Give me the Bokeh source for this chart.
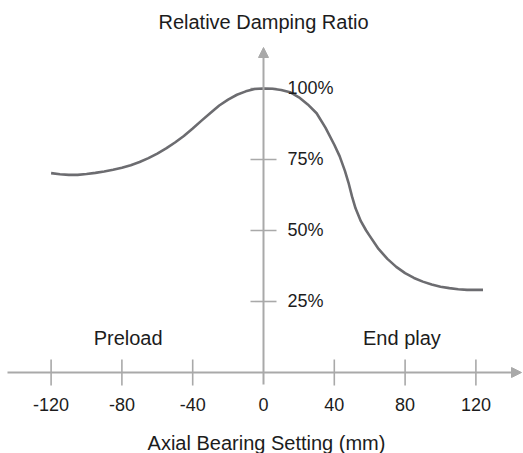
from bokeh.plotting import figure
from bokeh.models import Arrow, NormalHead
from bokeh.core.properties import value
from bokeh.embed import file_html
from bokeh.resources import INLINE

# ---- data ----
setting_mm = [-120, -115, -110, -105, -100, -95, -90, -85, -80, -75, -70, -65, -60, -55,
              -50, -45, -40, -35, -30, -25, -20, -15, -10, -5, 0,
              5, 10, 15, 20, 25, 30, 35, 40, 43, 46, 48, 50, 52, 55, 58, 60,
              65, 70, 75, 80, 85, 90, 95, 100, 105, 110, 115, 120, 124]
damping_pct = [70.2, 69.8, 69.6, 69.6, 69.9, 70.3, 70.8, 71.4, 72.1, 73.0, 74.1, 75.5, 77.1, 78.9,
               81.0, 83.3, 85.9, 88.7, 91.4, 94.0, 96.1, 97.8, 99.0, 99.8, 100.0,
               99.9, 99.5, 98.7, 96.9, 94.4, 91.3, 86.2, 80.2, 76.2, 71.0, 66.9, 62.0, 57.8, 53.3, 50.0, 48.1,
               43.5, 40.0, 37.2, 35.0, 33.3, 32.0, 31.0, 30.2, 29.7, 29.3, 29.1, 29.1, 29.1]
x_ticks = [-120, -80, -40, 0, 40, 80, 120]
x_tick_labels = ["-120", "-80", "-40", "0", "40", "80", "120"]
y_ticks = [25, 50, 75, 100]
y_tick_labels = ["25%", "50%", "75%", "100%"]
y_title = "Relative Damping Ratio"
x_title = "Axial Bearing Setting (mm)"
region_labels = ["Preload", "End play"]
region_x = [-76.5, 78.2]

# ---- layout constants (canvas pixels) ----
W, H = 523, 453
PX_X = 1.77   # px per mm
PX_Y = 2.84   # px per %
X0 = 263      # canvas px of x=0
Y0 = 372      # canvas px of y=0
TS = 8        # observed downward offset of rendered text baselines


def yd(py):
    """canvas pixel row -> data y"""
    return (Y0 - py) / PX_Y


def xd(px):
    """canvas pixel column -> data x"""
    return (px - X0) / PX_X


AXIS = "#a9a9a9"
CURVE = "#6c6c70"
TEXT = "#1c1c1c"
FONT = "Liberation Sans"

p = figure(width=W, height=H, output_backend="svg", toolbar_location=None,
           x_range=(xd(0), xd(W)), y_range=(yd(H), yd(0)),
           min_border=0)
p.axis.visible = False
p.grid.visible = False
p.outline_line_color = None
p.background_fill_color = "white"
p.border_fill_color = "white"

# axes with arrows
p.add_layout(Arrow(end=NormalHead(size=10, fill_color=AXIS, line_color=AXIS),
                   x_start=xd(7), y_start=0, x_end=xd(521), y_end=0,
                   line_color=AXIS, line_width=2))
p.add_layout(Arrow(end=NormalHead(size=10, fill_color=AXIS, line_color=AXIS),
                   x_start=0, y_start=yd(384), x_end=0, y_end=yd(47),
                   line_color=AXIS, line_width=2))

# tick marks
xt = [t for t in x_ticks if t != 0]
p.segment(x0=xt, x1=xt, y0=[yd(Y0 + 13)] * len(xt), y1=[yd(Y0 - 13)] * len(xt),
          line_color=AXIS, line_width=1.6)
p.segment(x0=[xd(X0 - 13)] * len(y_ticks), x1=[xd(X0 + 13)] * len(y_ticks),
          y0=y_ticks, y1=y_ticks, line_color=AXIS, line_width=1.6)

# curve
p.line(setting_mm, damping_pct, line_color=CURVE, line_width=2.6, line_join="round")

# tick labels
p.text(x=x_ticks, y=[yd(411.5 - TS)] * len(x_ticks), text=x_tick_labels,
       text_font=value(FONT), text_font_size="18px", text_color=TEXT,
       text_align="center", text_baseline="alphabetic")
p.text(x=[xd(287)] * len(y_ticks), y=[t - (7.3 - TS) / PX_Y for t in y_ticks], text=y_tick_labels,
       text_font=value(FONT), text_font_size="18px", text_color=TEXT,
       text_align="left", text_baseline="alphabetic")

# region labels
p.text(x=region_x, y=[yd(345 - TS)] * 2, text=region_labels,
       text_font=value(FONT), text_font_size="20px", text_color=TEXT,
       text_align="center", text_baseline="alphabetic")

# titles
p.text(x=[0], y=[yd(29 - TS)], text=[y_title],
       text_font=value(FONT), text_font_size="20px", text_color=TEXT,
       text_align="center", text_baseline="alphabetic")
p.text(x=[xd(266)], y=[yd(450 - TS)], text=[x_title],
       text_font=value(FONT), text_font_size="20px", text_color=TEXT,
       text_align="center", text_baseline="alphabetic")

open("out.html", "w").write(file_html(p, INLINE))
